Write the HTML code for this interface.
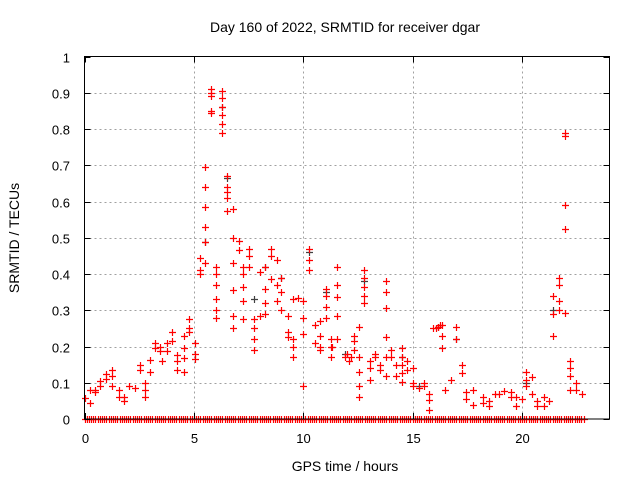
<!DOCTYPE html>
<html><head><meta charset="utf-8"><style>
html,body{margin:0;padding:0;background:#fff;}
svg{display:block;font-family:"Liberation Sans",sans-serif;}
</style></head><body>
<svg id="chart" width="640" height="480" viewBox="0 0 640 480" xmlns="http://www.w3.org/2000/svg">
<rect x="0" y="0" width="640" height="480" fill="#fff"/>
<g id="grid"></g>
<g id="marks"></g>
<rect x="84.5" y="56.5" width="525" height="362.5" fill="none" stroke="#000" stroke-width="1"/>
<g id="ticks"></g>
<text x="345" y="32" font-size="14" text-anchor="middle">Day 160 of 2022, SRMTID for receiver dgar</text>
<text x="345" y="471" font-size="14" text-anchor="middle">GPS time / hours</text>
<text x="19" y="238" font-size="14" text-anchor="middle" transform="rotate(-90 19 238)">SRMTID / TECUs</text>
</svg>
<script>
const xTicks=[0,5,10,15,20];
const xTickLabels=["0","5","10","15","20"];
const yTicks=[0,0.1,0.2,0.3,0.4,0.5,0.6,0.7,0.8,0.9,1];
const yTickLabels=["0","0.1","0.2","0.3","0.4","0.5","0.6","0.7","0.8","0.9","1"];
const redTimes=[0,0.27,0.27,0.5,0.5,0.73,0.73,0.96,0.96,1.26,1.26,1.26,1.57,1.57,1.8,1.8,2.02,2.33,2.55,2.55,2.78,2.78,2.78,3.0,3.0,3.24,3.24,3.47,3.47,3.54,3.77,3.77,4.0,4.0,4.22,4.22,4.22,4.53,4.53,4.53,4.53,4.76,4.76,4.76,5.03,5.03,5.03,5.26,5.26,5.26,5.49,5.49,5.49,5.49,5.49,5.49,5.79,5.79,5.79,5.79,5.79,6.02,6.02,6.02,6.02,6.02,6.02,6.3,6.3,6.3,6.3,6.3,6.3,6.53,6.53,6.53,6.53,6.53,6.8,6.8,6.8,6.8,6.8,6.8,7.04,7.04,7.26,7.26,7.26,7.26,7.26,7.52,7.52,7.52,7.76,7.76,7.76,7.76,8.02,8.02,8.25,8.25,8.25,8.25,8.51,8.51,8.51,8.78,8.78,8.78,9.0,9.0,9.0,9.29,9.29,9.29,9.51,9.51,9.51,9.51,9.77,10.0,10.0,10.0,10.0,10.27,10.27,10.27,10.53,10.53,10.76,10.76,10.76,10.76,11.02,11.02,11.02,11.02,11.26,11.26,11.26,11.3,11.54,11.54,11.54,11.54,11.54,11.9,12.0,12.1,12.2,12.3,12.3,12.3,12.55,12.55,12.55,12.55,12.55,12.78,12.78,12.78,12.78,12.78,13.05,13.05,13.05,13.3,13.3,13.5,13.5,13.8,13.8,13.8,13.8,13.8,13.8,14.03,14.03,14.26,14.26,14.5,14.5,14.5,14.5,14.5,14.75,14.75,15.0,15.0,15.0,15.27,15.5,15.5,15.77,15.77,15.77,15.95,16.05,16.15,16.25,16.33,16.33,16.33,16.48,16.74,17.0,17.0,17.27,17.27,17.46,17.46,17.76,17.76,18.2,18.2,18.5,18.5,18.75,18.97,19.2,19.5,19.5,19.73,19.73,20.0,20.2,20.2,20.2,20.45,20.45,20.7,20.7,21.0,21.0,21.24,21.42,21.42,21.42,21.7,21.7,21.7,21.7,21.95,21.97,21.95,21.95,21.95,22.2,22.2,22.2,22.2,22.45,22.45,22.75];
const redValues=[0.057,0.08,0.045,0.08,0.075,0.105,0.09,0.125,0.11,0.135,0.12,0.09,0.08,0.062,0.062,0.05,0.09,0.085,0.15,0.136,0.1,0.08,0.062,0.163,0.13,0.21,0.196,0.2,0.187,0.16,0.21,0.187,0.24,0.215,0.16,0.136,0.177,0.228,0.196,0.168,0.13,0.275,0.25,0.24,0.21,0.18,0.165,0.445,0.41,0.4,0.695,0.64,0.585,0.53,0.487,0.43,0.91,0.9,0.89,0.85,0.845,0.42,0.4,0.37,0.33,0.3,0.28,0.905,0.885,0.86,0.84,0.815,0.79,0.67,0.64,0.625,0.61,0.575,0.58,0.5,0.43,0.355,0.285,0.25,0.49,0.465,0.42,0.4,0.365,0.325,0.275,0.47,0.45,0.42,0.275,0.25,0.22,0.19,0.405,0.285,0.42,0.36,0.32,0.29,0.47,0.45,0.385,0.44,0.37,0.325,0.39,0.35,0.3,0.285,0.24,0.225,0.33,0.22,0.2,0.17,0.335,0.325,0.28,0.235,0.09,0.47,0.44,0.41,0.26,0.21,0.27,0.23,0.2,0.19,0.36,0.34,0.31,0.28,0.22,0.2,0.17,0.2,0.42,0.37,0.337,0.283,0.22,0.17,0.18,0.16,0.17,0.23,0.216,0.19,0.254,0.17,0.13,0.09,0.062,0.41,0.39,0.365,0.34,0.32,0.16,0.14,0.108,0.18,0.17,0.15,0.135,0.38,0.35,0.305,0.225,0.17,0.12,0.19,0.17,0.15,0.12,0.196,0.17,0.15,0.126,0.103,0.16,0.135,0.14,0.1,0.09,0.085,0.1,0.09,0.07,0.052,0.025,0.25,0.252,0.255,0.258,0.26,0.23,0.195,0.08,0.108,0.254,0.22,0.15,0.126,0.075,0.055,0.08,0.04,0.06,0.045,0.05,0.035,0.07,0.07,0.077,0.075,0.06,0.06,0.035,0.055,0.13,0.108,0.09,0.117,0.07,0.05,0.035,0.06,0.035,0.05,0.34,0.29,0.228,0.39,0.37,0.325,0.3,0.79,0.78,0.59,0.525,0.293,0.16,0.14,0.12,0.08,0.1,0.08,0.07];
const darkTimes=[5.49,6.3,6.53,7.76,8.25,9.0,10.27,11.02,11.9,12.78,14.5,15.27,16.15,17.0,20.2,21.42];
const darkValues=[0.487,0.86,0.665,0.33,0.42,0.39,0.46,0.35,0.18,0.38,0.17,0.09,0.255,0.22,0.1,0.3];
const zeroTimes=[0,0.1,0.2,0.3,0.4,0.5,0.6,0.7,0.8,0.9,1,1.1,1.2,1.3,1.4,1.5,1.6,1.7,1.8,1.9,2,2.1,2.2,2.3,2.4,2.5,2.6,2.7,2.8,2.9,3,3.1,3.2,3.3,3.4,3.5,3.6,3.7,3.8,3.9,4,4.1,4.2,4.3,4.4,4.5,4.6,4.7,4.8,4.9,5,5.1,5.2,5.3,5.4,5.5,5.6,5.7,5.8,5.9,6,6.1,6.2,6.3,6.4,6.5,6.6,6.7,6.8,6.9,7,7.1,7.2,7.3,7.4,7.5,7.6,7.7,7.8,7.9,8,8.1,8.2,8.3,8.4,8.5,8.6,8.7,8.8,8.9,9,9.1,9.2,9.3,9.4,9.5,9.6,9.7,9.8,9.9,10,10.1,10.2,10.3,10.4,10.5,10.6,10.7,10.8,10.9,11,11.1,11.2,11.3,11.4,11.5,11.6,11.7,11.8,11.9,12,12.1,12.2,12.3,12.4,12.5,12.6,12.7,12.8,12.9,13,13.1,13.2,13.3,13.4,13.5,13.6,13.7,13.8,13.9,14,14.1,14.2,14.3,14.4,14.5,14.6,14.7,14.8,14.9,15,15.1,15.2,15.3,15.4,15.5,15.6,15.7,15.8,15.9,16,16.1,16.2,16.3,16.4,16.5,16.6,16.7,16.8,16.9,17,17.1,17.2,17.3,17.4,17.5,17.6,17.7,17.8,17.9,18,18.1,18.2,18.3,18.4,18.5,18.6,18.7,18.8,18.9,19,19.1,19.2,19.3,19.4,19.5,19.6,19.7,19.8,19.9,20,20.1,20.2,20.3,20.4,20.5,20.6,20.7,20.8,20.9,21,21.1,21.2,21.3,21.4,21.5,21.6,21.7,21.8,21.9,22,22.1,22.2,22.3,22.4,22.5,22.6,22.7,22.85];

const NS="http://www.w3.org/2000/svg";
const L=84.5,R=609.5,T=56.5,B=419;
function sx(t){return L+(t-0)/(24-0)*(R-L);}
function sy(v){return B-(v-0)/(1-0)*(B-T);}
function mk(tag,attrs,parent){const e=document.createElementNS(NS,tag);for(const k in attrs)e.setAttribute(k,attrs[k]);parent.appendChild(e);return e;}
const grid=document.getElementById('grid'),ticks=document.getElementById('ticks'),marks=document.getElementById('marks');
xTicks.forEach((t,i)=>{
  const x=Math.round(sx(t))+0.5;
  if(i>0){const g=mk('line',{x1:x,x2:x,y1:T,y2:B,stroke:'#a0a0a0','stroke-dasharray':'2,3'},grid);
  
  }
  const a=mk('line',{x1:x,x2:x,y1:B,y2:B-6,stroke:'#000'},ticks);
  
  
  const b=mk('line',{x1:x,x2:x,y1:T,y2:T+6,stroke:'#000'},ticks);
  
  
  const tx=mk('text',{x:x,y:443,'font-size':13,'text-anchor':'middle'},ticks);
  tx.textContent=xTickLabels[i];
  
  
});
yTicks.forEach((v,i)=>{
  const y=Math.round(sy(v))+0.5;
  if(i>0&&i<yTicks.length-1){const g=mk('line',{x1:L,x2:R,y1:y,y2:y,stroke:'#a0a0a0','stroke-dasharray':'2,3'},grid);
  
  }
  const a=mk('line',{x1:L,x2:L+6,y1:y,y2:y,stroke:'#000'},ticks);
  
  
  const b=mk('line',{x1:R-6,x2:R,y1:y,y2:y,stroke:'#000'},ticks);
  
  
  const tx=mk('text',{x:70,y:y+5,'font-size':13,'text-anchor':'end'},ticks);
  tx.textContent=yTickLabels[i];
  
  
});
function plus(t,v,color,name){
  const x=Math.round(sx(t))+0.5,y=Math.round(sy(v))+0.5;
  const p=mk('path',{d:`M${x-3.5} ${y}H${x+3.5}M${x} ${y-3.5}V${y+3.5}`,stroke:color,'stroke-width':1.2,fill:'none'},marks);
  
  
}
darkTimes.forEach((t,i)=>plus(t,darkValues[i],'#404040','dark-point'));
redTimes.forEach((t,i)=>plus(t,redValues[i],'#ff0000','red-point'));
zeroTimes.forEach((t,i)=>plus(t,0,'#ff0000','zero-point'));
</script>
</body></html>
